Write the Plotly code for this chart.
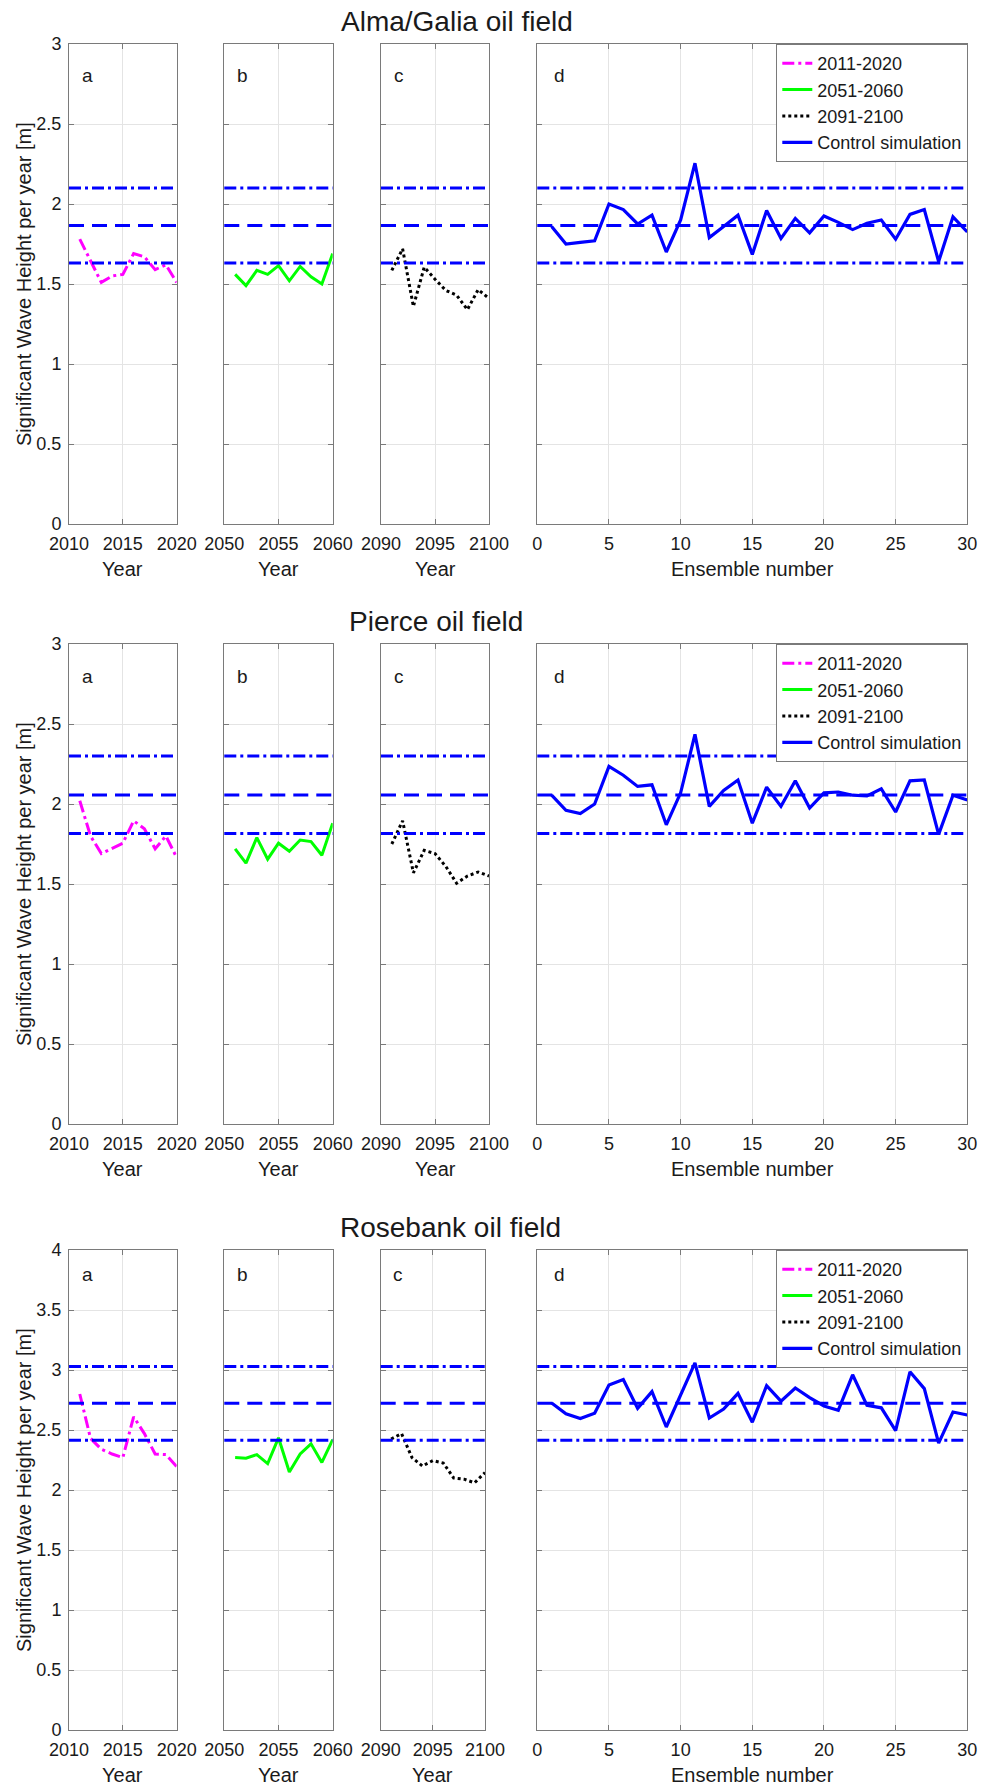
import plotly.graph_objects as go

# ---- data -------------------------------------------------------------
years_2011 = list(range(2011, 2021))
years_2051 = list(range(2051, 2061))
years_2091 = list(range(2091, 2101))
ensemble = list(range(1, 31))

field_names = ["Alma/Galia oil field", "Pierce oil field", "Rosebank oil field"]
series_names = ["2011-2020", "2051-2060", "2091-2100", "Control simulation"]

alma_2011 = [1.78, 1.64, 1.51, 1.55, 1.56, 1.69, 1.67, 1.59, 1.62, 1.51]
alma_2051 = [1.56, 1.49, 1.585, 1.56, 1.615, 1.52, 1.61, 1.545, 1.50, 1.69]
alma_2091 = [1.585, 1.72, 1.36, 1.605, 1.53, 1.46, 1.43, 1.34, 1.465, 1.41]
alma_ctrl = [1.86, 1.75, 1.76, 1.77, 2.00, 1.965, 1.875, 1.93, 1.70, 1.90,
             2.255, 1.79, 1.86, 1.93, 1.685, 1.96, 1.785, 1.91, 1.82, 1.925,
             1.885, 1.84, 1.88, 1.90, 1.78, 1.935, 1.965, 1.64, 1.92, 1.825]
alma_ref = [1.632, 1.866, 2.100]  # lower band, mean, upper band

pierce_2011 = [2.02, 1.80, 1.69, 1.72, 1.755, 1.895, 1.845, 1.72, 1.80, 1.665]
pierce_2051 = [1.72, 1.63, 1.79, 1.655, 1.755, 1.705, 1.775, 1.765, 1.68, 1.88]
pierce_2091 = [1.75, 1.895, 1.57, 1.71, 1.69, 1.61, 1.505, 1.55, 1.575, 1.55]
pierce_ctrl = [2.055, 1.96, 1.94, 2.00, 2.235, 2.18, 2.11, 2.12, 1.87, 2.07,
               2.435, 1.985, 2.085, 2.15, 1.88, 2.105, 1.985, 2.145, 1.975, 2.07,
               2.075, 2.055, 2.05, 2.095, 1.95, 2.145, 2.15, 1.81, 2.055, 2.025]
pierce_ref = [1.816, 2.057, 2.300]

rose_2011 = [2.80, 2.43, 2.34, 2.30, 2.27, 2.61, 2.47, 2.30, 2.295, 2.195]
rose_2051 = [2.27, 2.265, 2.295, 2.22, 2.435, 2.15, 2.30, 2.385, 2.23, 2.42]
rose_2091 = [2.425, 2.47, 2.27, 2.20, 2.245, 2.225, 2.10, 2.09, 2.06, 2.145]
rose_ctrl = [2.725, 2.635, 2.595, 2.64, 2.875, 2.92, 2.68, 2.82, 2.525, 2.795,
             3.06, 2.60, 2.675, 2.805, 2.565, 2.87, 2.74, 2.85, 2.77, 2.70,
             2.665, 2.96, 2.705, 2.685, 2.495, 2.985, 2.845, 2.39, 2.65, 2.625]
rose_ref = [2.415, 2.723, 3.030]

rows_data = [
    (alma_2011, alma_2051, alma_2091, alma_ctrl, alma_ref, 3),
    (pierce_2011, pierce_2051, pierce_2091, pierce_ctrl, pierce_ref, 3),
    (rose_2011, rose_2051, rose_2091, rose_ctrl, rose_ref, 4),
]

# ---- page geometry (pixels) -------------------------------------------
W, H = 994, 1786
col_px = [(69, 176.7), (224.3, 332.7), (381, 489), (537.3, 967.3)]
row_px = [(44, 524), (644, 1124), (1250, 1730)]
title_x_px = [457, 436, 450]

FONT = "Liberation Sans, Arial, Helvetica, sans-serif"
TXT = "#1a1a1a"
AX = "#7a7a7a"
GRID = "#e4e4e4"

def px_x(v):
    return v / W

def px_y(v):
    return 1 - v / H

fig = go.Figure()
layout = dict(
    width=W, height=H, margin=dict(l=0, r=0, t=0, b=0),
    paper_bgcolor="white", plot_bgcolor="white",
    font=dict(family=FONT, color=TXT, size=18),
    showlegend=True,
)
annotations = []

x_ranges = [[2010, 2020], [2050, 2060], [2090, 2100], [0, 30]]
x_titles = ["Year", "Year", "Year", "Ensemble number"]
letters = ["a", "b", "c", "d"]
styles = [
    dict(color="#ff00ff", width=3, dash="12px,4px,3px,4px"),
    dict(color="#00ff00", width=3, dash="solid"),
    dict(color="#000000", width=3, dash="3px,3px"),
    dict(color="#0000ff", width=3.2, dash="solid"),
]
ref_dash = ["12px,4px,3px,4px", "15px,8px", "12px,4px,3px,4px"]

for r, (s1, s2, s3, ctrl, ref, ymax) in enumerate(rows_data):
    top, bot = row_px[r]
    legend_name = "legend" if r == 0 else f"legend{r + 1}"
    xs = [years_2011, years_2051, years_2091, ensemble]
    ys = [s1, s2, s3, ctrl]
    for c in range(4):
        k = r * 4 + c + 1
        xa = "xaxis" if k == 1 else f"xaxis{k}"
        ya = "yaxis" if k == 1 else f"yaxis{k}"
        xr = "x" if k == 1 else f"x{k}"
        yr = "y" if k == 1 else f"y{k}"
        x0, x1 = col_px[c]
        if r == 2 and c == 2:
            x0, x1 = 380.7, 485
        common = dict(showline=True, linecolor=AX, linewidth=1, mirror="ticks",
                      ticks="inside", ticklen=5, tickcolor=AX, tickwidth=1,
                      showgrid=True, gridcolor=GRID, gridwidth=1, zeroline=False,
                      tickfont=dict(size=18, color=TXT, family=FONT),
                      automargin=False, fixedrange=True)
        layout[xa] = dict(common, domain=[px_x(x0), px_x(x1)], anchor=yr,
                          range=x_ranges[c], dtick=5, tick0=0,
                          ticklabelstandoff=3)
        layout[ya] = dict(common, domain=[px_y(bot), px_y(top)], anchor=xr,
                          range=[0, ymax], dtick=0.5, tick0=0,
                          showticklabels=(c == 0), ticklabelstandoff=3)

        # reference band lines from the control simulation
        for lvl, dsh in zip(ref, ref_dash):
            fig.add_shape(type="line", xref=f"{xr} domain", yref=yr,
                          x0=0, x1=1, y0=lvl, y1=lvl, layer="above",
                          line=dict(color="#0000ff", width=3, dash=dsh))

        fig.add_trace(go.Scatter(
            x=xs[c], y=ys[c], mode="lines", name=series_names[c],
            line=styles[c], xaxis=xr, yaxis=yr, legend=legend_name,
            hoverinfo="skip"))

        # panel letter
        annotations.append(dict(
            text=letters[c], xref=xr, yref=yr, x=xs[c][0], y=ymax - 0.2,
            xanchor="left", yanchor="middle", showarrow=False,
            font=dict(size=19, color=TXT, family=FONT)))
        # x axis title
        annotations.append(dict(
            text=x_titles[c], xref="paper", yref="paper",
            x=px_x((x0 + x1) / 2), y=px_y(bot + 45),
            xanchor="center", yanchor="middle", showarrow=False,
            font=dict(size=20, color=TXT, family=FONT)))

    # y axis title
    annotations.append(dict(
        text="Significant Wave Height per year [m]", xref="paper", yref="paper",
        x=px_x(24), y=px_y((top + bot) / 2), textangle=-90,
        xanchor="center", yanchor="middle", showarrow=False,
        font=dict(size=20, color=TXT, family=FONT)))
    # row title
    annotations.append(dict(
        text=field_names[r], xref="paper", yref="paper",
        x=px_x(title_x_px[r]), y=px_y(top - 23),
        xanchor="center", yanchor="middle", showarrow=False,
        font=dict(size=28, color=TXT, family=FONT)))

    layout[legend_name] = dict(
        x=px_x(968.3), xanchor="right", y=px_y(top), yanchor="top",
        bgcolor="white", bordercolor=AX, borderwidth=1,
        font=dict(size=18, color=TXT, family=FONT),
        itemwidth=30, tracegroupgap=0, traceorder="normal",
        itemclick=False, itemdoubleclick=False)

layout["annotations"] = annotations
fig.update_layout(**layout)
fig.write_html("out.html")
